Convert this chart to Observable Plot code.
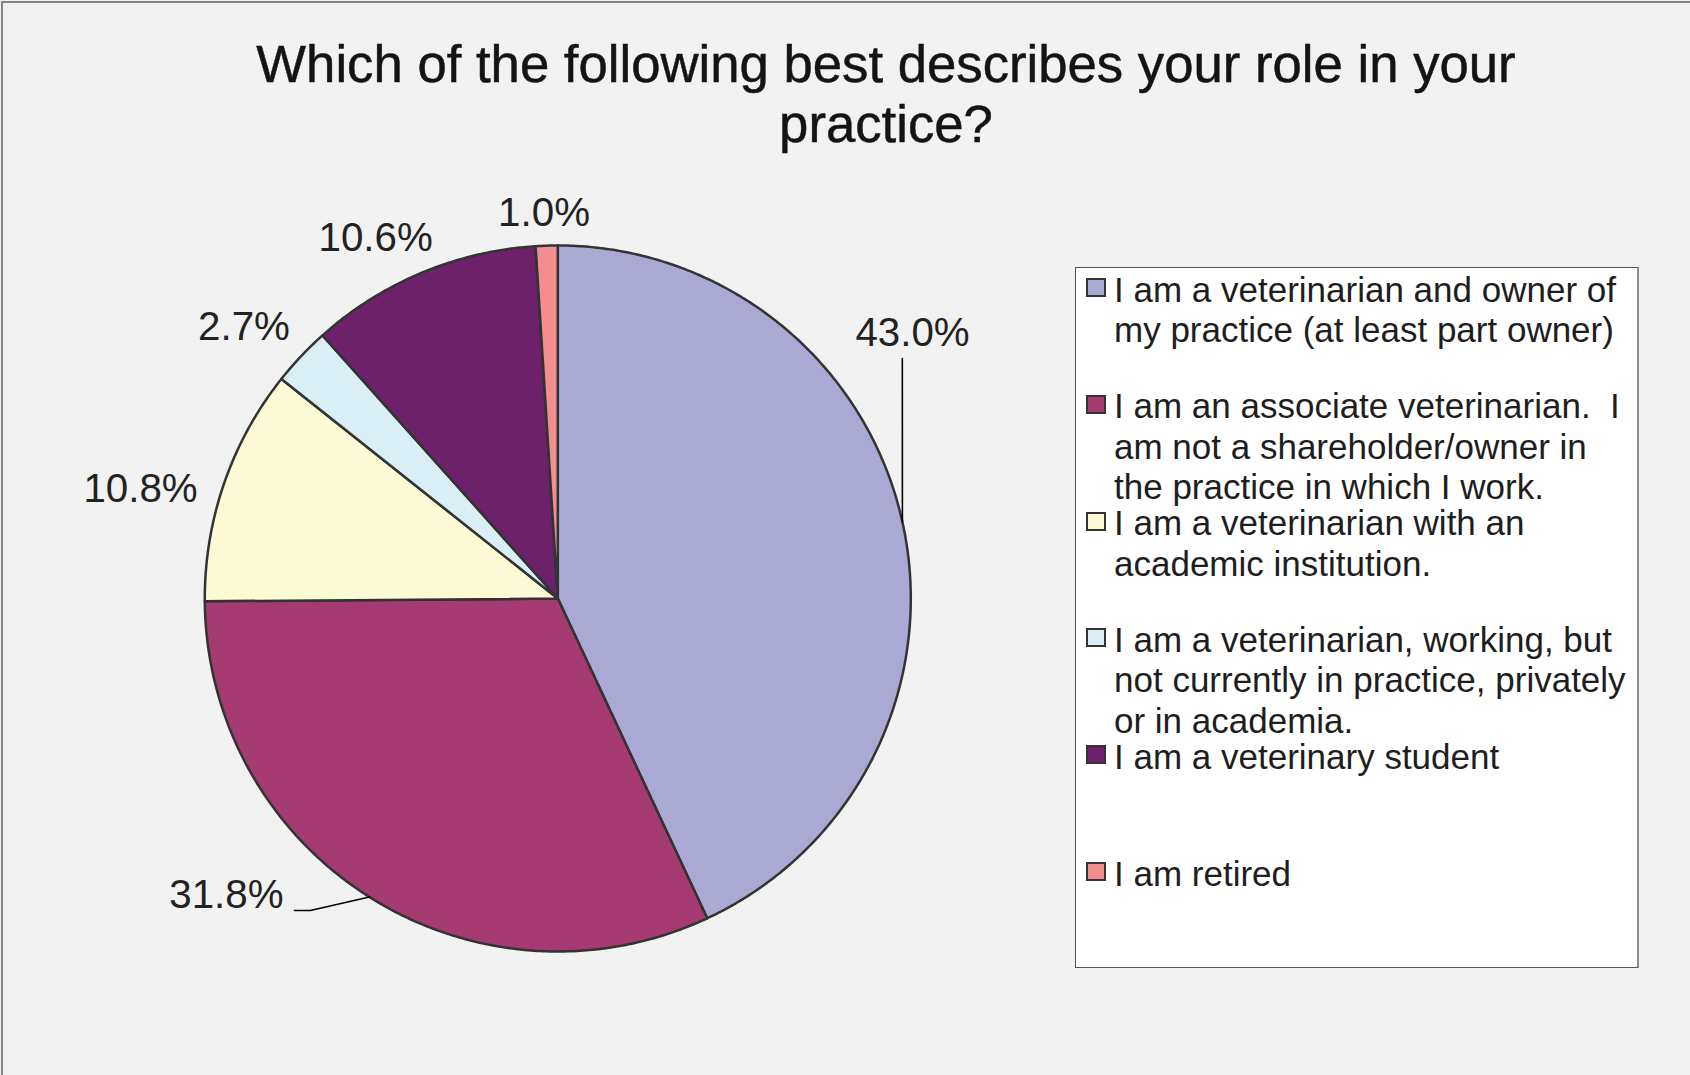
<!DOCTYPE html>
<html>
<head>
<meta charset="utf-8">
<script src="https://cdn.jsdelivr.net/npm/d3@7"></script>
<script src="https://cdn.jsdelivr.net/npm/@observablehq/plot@0.6"></script>
<style>
  html, body { margin: 0; padding: 0; background: #f2f2f2; }
  #wrap { position: relative; width: 1690px; height: 1075px; overflow: hidden;
          font-family: "Liberation Sans", Arial, Helvetica, sans-serif; color: #1a1a1a; }
  #wrap svg { position: absolute; left: 0; top: 0; }
  .outer { position: absolute; left: 1px; top: 1px; width: 1800px; height: 1200px;
           border-top: 2px solid #858585; border-left: 2px solid #858585; pointer-events: none; }
  .title { position: absolute; top: 34px; left: 886px; transform: translateX(-50%);
           font-size: 52.7px; line-height: 60px; text-align: center; white-space: nowrap; color: #141414;
           -webkit-text-stroke: 0.5px #141414; }
  .legend-box { position: absolute; left: 1074.5px; top: 267px; width: 561px; height: 699px;
                background: #fff; border: 1.5px solid #555; border-right: 2px solid #8c8c8c; }
  .legend-item { position: absolute; left: 1114px; font-size: 35px; line-height: 40.5px;
                 white-space: pre; color: #1e1e1e; }
  .legend-swatch { position: absolute; left: 1086px; width: 20px; height: 19px;
                   box-sizing: border-box; border: 2.5px solid #333; }
</style>
</head>
<body>
<div id="wrap"></div>
<script>
// ---------------- data ----------------
const titleLines = [
  "Which of the following best describes your role in your",
  "practice?"
];
const legendLabels = [
  ["I am a veterinarian and owner of", "my practice (at least part owner)"],
  ["I am an associate veterinarian.  I", "am not a shareholder/owner in", "the practice in which I work."],
  ["I am a veterinarian with an", "academic institution."],
  ["I am a veterinarian, working, but", "not currently in practice, privately", "or in academia."],
  ["I am a veterinary student"],
  ["I am retired"]
];
const categories = legendLabels.map(l => l.join(" "));
const values = [43.0, 31.8, 10.8, 2.7, 10.6, 1.0];
const colors = ["#aaa9d3", "#a63b72", "#fdfad6", "#daeff5", "#6d216b", "#f28f8e"];

// ---------------- layout ----------------
const PIE = {cx: 557.3, cy: 598, r: 353};
// label placement in pie units (radius = 1), y up
const labelLayout = [
  {at: [1.005, 0.716], anchor: "middle", line: "bottom", leader: [[null], [0.976, 0.68]]},
  {at: [-0.777, -0.877], anchor: "end", line: "bottom", leader: [[null], [-0.701, -0.884], [-0.746, -0.884]]},
  {at: [-1.182, 0.309], anchor: "middle", line: "middle"},
  {at: [-0.889, 0.768], anchor: "middle", line: "middle"},
  {at: [-0.516, 1.020], anchor: "middle", line: "middle"},
  {at: [-0.039, 1.0915], anchor: "middle", line: "middle"}
];
const legendFirstBaseline = 302, legendItemStep = 116.8;

// ---------------- geometry from values ----------------
const arcs = d3.pie().sort(null).value(d => d)(values);
const piePoints = arcs.flatMap((a, i) => {
  const cat = categories[i];
  const span = a.endAngle - a.startAngle;
  const n = Math.max(2, Math.ceil(span / (Math.PI / 360)));
  const pts = [{category: cat, x: 0, y: 0}];
  for (let k = 0; k <= n; k++) {
    const t = a.startAngle + span * k / n;
    pts.push({category: cat, x: Math.sin(t), y: Math.cos(t)});
  }
  pts.push({category: cat, x: 0, y: 0});
  return pts;
});

const fmt = v => d3.format(".1f")(v) + "%";
const labels = arcs.map((a, i) => ({
  text: fmt(values[i]),
  x: labelLayout[i].at[0], y: labelLayout[i].at[1],
  anchor: labelLayout[i].anchor, line: labelLayout[i].line
}));

const leaders = arcs.flatMap((a, i) => {
  const L = labelLayout[i].leader;
  if (!L) return [];
  const mid = (a.startAngle + a.endAngle) / 2;
  return L.map(p => p[0] === null
    ? {id: i, x: Math.sin(mid), y: Math.cos(mid)}
    : {id: i, x: p[0], y: p[1]});
});

// ---------------- chart ----------------
const labelStyle = {fontSize: 40.3, fill: "#222"};
const chart = Plot.plot({
  width: 1690,
  height: 1075,
  margin: 0,
  style: {background: "transparent", fontFamily: "'Liberation Sans', Arial, sans-serif", overflow: "visible"},
  x: {domain: [-1, 1], range: [PIE.cx - PIE.r, PIE.cx + PIE.r], axis: null},
  y: {domain: [-1, 1], range: [PIE.cy + PIE.r, PIE.cy - PIE.r], axis: null},
  color: {domain: categories, range: colors},
  marks: [
    Plot.line(piePoints, {x: "x", y: "y", z: "category", fill: "category",
      stroke: "#333", strokeWidth: 2.5, strokeLinejoin: "round"}),
    Plot.line(leaders, {x: "x", y: "y", z: "id", stroke: "#000", strokeWidth: 1.6}),
    Plot.text(labels.filter(d => d.anchor === "middle" && d.line === "bottom"),
      {x: "x", y: "y", text: "text", textAnchor: "middle", lineAnchor: "bottom", ...labelStyle}),
    Plot.text(labels.filter(d => d.anchor === "end"),
      {x: "x", y: "y", text: "text", textAnchor: "end", lineAnchor: "bottom", ...labelStyle}),
    Plot.text(labels.filter(d => d.line === "middle"),
      {x: "x", y: "y", text: "text", textAnchor: "middle", lineAnchor: "middle", ...labelStyle})
  ]
});

// ---------------- assemble page ----------------
const wrap = document.getElementById("wrap");
wrap.appendChild(chart);

const outer = document.createElement("div");
outer.className = "outer";
wrap.appendChild(outer);

const title = document.createElement("div");
title.className = "title";
title.innerHTML = titleLines.map(t => t.replace(/&/g, "&amp;").replace(/</g, "&lt;")).join("<br>");
wrap.appendChild(title);

const box = document.createElement("div");
box.className = "legend-box";
wrap.appendChild(box);

legendLabels.forEach((lines, i) => {
  const baseline = legendFirstBaseline + i * legendItemStep;
  const sw = document.createElement("div");
  sw.className = "legend-swatch";
  sw.style.top = (baseline - 24) + "px";
  sw.style.background = colors[i];
  wrap.appendChild(sw);
  const it = document.createElement("div");
  it.className = "legend-item";
  it.style.top = (baseline - 32.5) + "px";
  it.textContent = lines.join("\n");
  wrap.appendChild(it);
});
</script>
</body>
</html>
